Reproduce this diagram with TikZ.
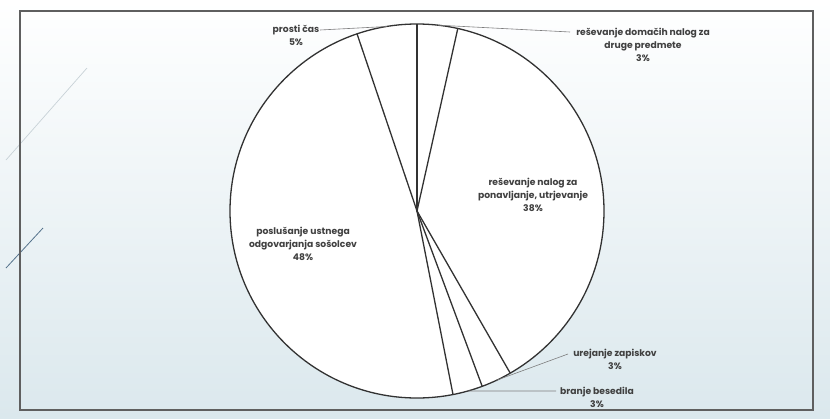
\documentclass[tikz,border=0pt]{standalone}
\usepackage{fontspec}
\setmainfont{Poppins}
\usetikzlibrary{calc}
\definecolor{bgtop}{RGB}{255,255,255}
\definecolor{bgmid}{RGB}{240,245,247}
\definecolor{bgbot}{RGB}{219,232,237}
\definecolor{labelgray}{RGB}{64,64,64}
\definecolor{piegray}{RGB}{50,50,50}
\definecolor{framegray}{RGB}{95,95,95}
\definecolor{leadergray}{RGB}{125,125,125}
\definecolor{decolight}{RGB}{200,210,215}
\definecolor{decoblue}{RGB}{85,115,140}
\begin{document}
\begin{tikzpicture}[x=1pt,y=-1pt,
  lbl/.style={font=\bfseries\fontsize{9.2}{13}\selectfont, text=labelgray, align=center, inner sep=0pt},
  pieline/.style={draw=piegray, line width=1.3pt},
  leader/.style={draw=leadergray, line width=0.6pt},
  frameline/.style={draw=framegray, line width=1.1pt}]
\useasboundingbox (0,0) rectangle (830,418);
\shade[top color=bgtop, middle color=bgmid, bottom color=bgbot] (0,0) rectangle (830,418);
% decorative lines
\coordinate (d1a) at (87,68); \coordinate (d1b) at (6,160);
\coordinate (d2a) at (43,228); \coordinate (d2b) at (6,268);
\draw[decolight, line width=0.7pt] (d1a) -- (d1b);
\draw[decoblue, line width=0.8pt] (d2a) -- (d2b);
% frame
\draw[frameline] (20,11) rectangle (813,410);
% pie
\coordinate (c) at (417,211);
\fill[white] (c) circle (187);
\coordinate (e0) at ($(c)+(-90:187)$);
\coordinate (e1) at ($(c)+(-77.4:187)$);
\coordinate (e2) at ($(c)+(60.1:187)$);
\coordinate (e3) at ($(c)+(69.6:187)$);
\coordinate (e4) at ($(c)+(78.9:187)$);
\coordinate (e5) at ($(c)+(-108.7:187)$);
\foreach \e in {e0,e1,e2,e3,e4,e5} \draw[pieline] (c) -- (\e);
\draw[pieline] (c) circle (187);
% leader end points on arc
\coordinate (m1) at ($(c)+(-83.7:187)$);
\coordinate (m3) at ($(c)+(64.85:187)$);
\coordinate (m4) at ($(c)+(74.25:187)$);
\coordinate (m6) at ($(c)+(-99.35:187)$);
% labels
\node[lbl] (prosti) at (296,35) {prosti čas\\5\%};
\node[lbl] (domaci) at (643,45) {reševanje domačih nalog za\\druge predmete\\3\%};
\node[lbl] (ponav) at (533,195) {reševanje nalog za\\ponavljanje, utrjevanje\\38\%};
\node[lbl] (poslus) at (303,244) {poslušanje ustnega\\odgovarjanja sošolcev\\48\%};
\node[lbl] (urej) at (615,359) {urejanje zapiskov\\3\%};
\node[lbl] (branje) at (597,397) {branje besedila\\3\%};
% leaders
\coordinate (s1) at (570,32);
\coordinate (s6) at (320,30);
\coordinate (s3) at (568,354);
\coordinate (s4) at (556,391);
\draw[leader] (s1) -- (m1);
\draw[leader] (s6) -- (m6);
\draw[leader] (s3) -- (m3);
\draw[leader] (s4) -- (m4);
\end{tikzpicture}
\end{document}
